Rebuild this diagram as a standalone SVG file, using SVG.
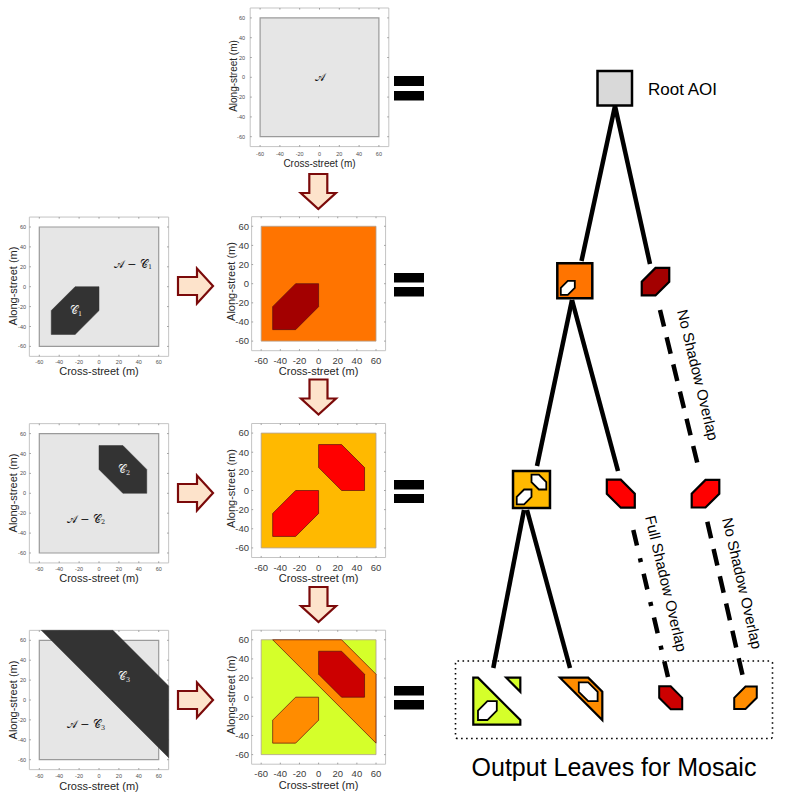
<svg xmlns="http://www.w3.org/2000/svg" xmlns:xlink="http://www.w3.org/1999/xlink" width="797" height="797" viewBox="0 0 797 797">
<style>
text{font-family:"Liberation Sans",Arial,sans-serif}
.tk{font-size:5.5px;fill:#4d4d4d}
.tkm{font-size:9.5px;fill:#404040}
.axl{font-size:11px;fill:#262626}
.axt{font-size:10px;fill:#262626}
.cal{font-family:"DejaVu Serif","Liberation Serif",serif;font-size:11px;fill:#111}
.wt{fill:#f2f2f2}
.ns{vector-effect:non-scaling-stroke}
.gray{fill:#E6E6E6;stroke:#9a9a9a;stroke-width:1.2}
.dk{fill:#333;stroke:#333;stroke-width:0.5}
.bx{fill:#fff;stroke:#c4c4c4;stroke-width:1}
.tks{fill:none;stroke:#8a8a8a;stroke-width:0.8}
.oct{stroke:#5a1010;stroke-width:0.7}
.edge{stroke:#000;stroke-width:4.5;fill:none}
.nstk{stroke:#000;stroke-width:2.5}
.wo{fill:#fff;stroke:#000;stroke-width:1.8}
.arr{fill:#FDE3CB;stroke:#7B0A0A;stroke-width:2.2}
.lbl{font-size:15px;fill:#000}
</style>
<defs>
<g id="ax">
<rect class="bx ns" x="-70" y="-70" width="140" height="140"/>
<path class="tks ns" d="M-60,-70v1.6M-40,-70v1.6M-20,-70v1.6M0,-70v1.6M20,-70v1.6M40,-70v1.6M60,-70v1.6M-60,70v-1.6M-40,70v-1.6M-20,70v-1.6M0,70v-1.6M20,70v-1.6M40,70v-1.6M60,70v-1.6M-70,-60h1.6M-70,-40h1.6M-70,-20h1.6M-70,0h1.6M-70,20h1.6M-70,40h1.6M-70,60h1.6M70,-60h-1.6M70,-40h-1.6M70,-20h-1.6M70,0h-1.6M70,20h-1.6M70,40h-1.6M70,60h-1.6"/>
</g>
<polygon id="c1" class="ns" points="-24,0 0,0 0,-24 -24,-48 -48,-48 -48,-24"/>
<polygon id="c2" class="ns" points="0,48 24,48 48,24 48,0 24,0 0,24"/>
<polygon id="o1" class="ns" points="0,-24 24,-24 24,0 0,24 -24,24 -24,0"/>
<polygon id="o2" class="ns" points="-24,-24 0,-24 24,0 24,24 0,24 -24,0"/>
<path id="arr" d="M-9,0H9V19H17.5L0,35L-17.5,19H-9Z"/>
</defs>

<!-- Top plot -->
<g id="plot-A">
<g transform="translate(319.5,77.3) scale(0.99,-0.99)">
<use xlink:href="#ax"/>
<rect class="gray ns" x="-60" y="-60" width="120" height="120"/>
</g>
<g class="tk" text-anchor="end">
<text x="245" y="19.9">60</text><text x="245" y="39.7">40</text><text x="245" y="59.5">20</text><text x="245" y="79.3">0</text><text x="245" y="99.1">-20</text><text x="245" y="118.9">-40</text><text x="245" y="138.7">-60</text>
</g>
<g class="tk" text-anchor="middle">
<text x="260.1" y="155.5">-60</text><text x="279.9" y="155.5">-40</text><text x="299.7" y="155.5">-20</text><text x="319.5" y="155.5">0</text><text x="339.3" y="155.5">20</text><text x="359.1" y="155.5">40</text><text x="378.9" y="155.5">60</text>
</g>
<text class="axt" x="319.5" y="166.5" text-anchor="middle">Cross-street (m)</text>
<text class="axt" transform="translate(236.5,76) rotate(-90)" text-anchor="middle">Along-street (m)</text>
<text class="cal" x="319.5" y="80.5" text-anchor="middle">𝒜</text>
</g>

<!-- Left plots -->
<g id="plot-C1">
<g transform="translate(99,286.7) scale(0.995,-0.995)">
<use xlink:href="#ax"/>
<rect class="gray ns" x="-60" y="-60" width="120" height="120"/>
<use xlink:href="#c1" class="dk"/>
</g>
<g class="tk" text-anchor="end">
<text x="26" y="229">60</text><text x="26" y="248.9">40</text><text x="26" y="268.8">20</text><text x="26" y="288.7">0</text><text x="26" y="308.6">-20</text><text x="26" y="328.5">-40</text><text x="26" y="348.4">-60</text>
</g>
<g class="tk" text-anchor="middle">
<text x="39.3" y="364">-60</text><text x="59.2" y="364">-40</text><text x="79.1" y="364">-20</text><text x="99" y="364">0</text><text x="118.9" y="364">20</text><text x="138.8" y="364">40</text><text x="158.7" y="364">60</text>
</g>
<text class="axl" x="99" y="374.8" text-anchor="middle">Cross-street (m)</text>
<text class="axl" transform="translate(17,286) rotate(-90)" text-anchor="middle">Along-street (m)</text>
<text class="cal" x="133" y="267.5" text-anchor="middle">𝒜 − 𝒞<tspan font-size="6.5" dy="1.5">1</tspan></text>
<text class="cal wt" x="76" y="314" text-anchor="middle">𝒞<tspan font-size="6.5" dy="1.5">1</tspan></text>
</g>

<g id="plot-C2">
<g transform="translate(99,493.3) scale(0.995,-0.995)">
<use xlink:href="#ax"/>
<rect class="gray ns" x="-60" y="-60" width="120" height="120"/>
<use xlink:href="#c2" class="dk"/>
</g>
<g class="tk" text-anchor="end">
<text x="26" y="435.6">60</text><text x="26" y="455.5">40</text><text x="26" y="475.4">20</text><text x="26" y="495.3">0</text><text x="26" y="515.2">-20</text><text x="26" y="535.1">-40</text><text x="26" y="555">-60</text>
</g>
<g class="tk" text-anchor="middle">
<text x="39.3" y="570.5">-60</text><text x="59.2" y="570.5">-40</text><text x="79.1" y="570.5">-20</text><text x="99" y="570.5">0</text><text x="118.9" y="570.5">20</text><text x="138.8" y="570.5">40</text><text x="158.7" y="570.5">60</text>
</g>
<text class="axl" x="99" y="582" text-anchor="middle">Cross-street (m)</text>
<text class="axl" transform="translate(17,493) rotate(-90)" text-anchor="middle">Along-street (m)</text>
<text class="cal wt" x="124" y="473" text-anchor="middle">𝒞<tspan font-size="6.5" dy="1.5">2</tspan></text>
<text class="cal" x="86" y="522.5" text-anchor="middle">𝒜 − 𝒞<tspan font-size="6.5" dy="1.5">2</tspan></text>
</g>

<g id="plot-C3">
<g transform="translate(99,700) scale(0.995,-0.995)">
<use xlink:href="#ax"/>
<rect class="gray ns" x="-60" y="-60" width="120" height="120"/>
<polygon class="dk ns" points="-58,70 14,70 70,14 70,-58"/>
</g>
<g class="tk" text-anchor="end">
<text x="26" y="642.3">60</text><text x="26" y="662.2">40</text><text x="26" y="682.1">20</text><text x="26" y="702">0</text><text x="26" y="721.9">-20</text><text x="26" y="741.8">-40</text><text x="26" y="761.7">-60</text>
</g>
<g class="tk" text-anchor="middle">
<text x="39.3" y="777.5">-60</text><text x="59.2" y="777.5">-40</text><text x="79.1" y="777.5">-20</text><text x="99" y="777.5">0</text><text x="118.9" y="777.5">20</text><text x="138.8" y="777.5">40</text><text x="158.7" y="777.5">60</text>
</g>
<text class="axl" x="99" y="789.5" text-anchor="middle">Cross-street (m)</text>
<text class="axl" transform="translate(17,700) rotate(-90)" text-anchor="middle">Along-street (m)</text>
<text class="cal wt" x="124" y="680" text-anchor="middle">𝒞<tspan font-size="6.5" dy="1.5">3</tspan></text>
<text class="cal" x="86" y="728" text-anchor="middle">𝒜 − 𝒞<tspan font-size="6.5" dy="1.5">3</tspan></text>
</g>

<!-- Middle plots -->
<g id="plot-M2">
<g transform="translate(318.6,283.7) scale(0.957,-0.957)">
<use xlink:href="#ax"/>
<rect class="ns" x="-60" y="-60" width="120" height="120" fill="#FF7400" stroke="#b0a090" stroke-width="0.8"/>
<use xlink:href="#c1" class="oct" fill="#A30000"/>
</g>
<g class="tkm" text-anchor="end">
<text x="249" y="229.6">60</text><text x="249" y="248.7">40</text><text x="249" y="267.9">20</text><text x="249" y="287">0</text><text x="249" y="306.1">-20</text><text x="249" y="325.3">-40</text><text x="249" y="344.4">-60</text>
</g>
<g class="tkm" text-anchor="middle">
<text x="261.2" y="363.7">-60</text><text x="280.3" y="363.7">-40</text><text x="299.5" y="363.7">-20</text><text x="318.6" y="363.7">0</text><text x="337.7" y="363.7">20</text><text x="356.9" y="363.7">40</text><text x="376" y="363.7">60</text>
</g>
<text class="axl" x="318.6" y="375" text-anchor="middle" font-size="11.5">Cross-street (m)</text>
<text class="axl" transform="translate(235,281.5) rotate(-90)" text-anchor="middle" font-size="11.5">Along-street (m)</text>
</g>

<g id="plot-M3">
<g transform="translate(318.6,490.5) scale(0.957,-0.957)">
<use xlink:href="#ax"/>
<rect class="ns" x="-60" y="-60" width="120" height="120" fill="#FFB900" stroke="#b0a090" stroke-width="0.8"/>
<use xlink:href="#c1" class="oct" fill="#FF0000"/>
<use xlink:href="#c2" class="oct" fill="#FF0000"/>
</g>
<g class="tkm" text-anchor="end">
<text x="249" y="436.4">60</text><text x="249" y="455.5">40</text><text x="249" y="474.7">20</text><text x="249" y="493.8">0</text><text x="249" y="512.9">-20</text><text x="249" y="532.1">-40</text><text x="249" y="551.2">-60</text>
</g>
<g class="tkm" text-anchor="middle">
<text x="261.2" y="570.5">-60</text><text x="280.3" y="570.5">-40</text><text x="299.5" y="570.5">-20</text><text x="318.6" y="570.5">0</text><text x="337.7" y="570.5">20</text><text x="356.9" y="570.5">40</text><text x="376" y="570.5">60</text>
</g>
<text class="axl" x="318.6" y="582" text-anchor="middle" font-size="11.5">Cross-street (m)</text>
<text class="axl" transform="translate(235,488.5) rotate(-90)" text-anchor="middle" font-size="11.5">Along-street (m)</text>
</g>

<g id="plot-M4">
<g transform="translate(318.6,697.2) scale(0.957,-0.957)">
<use xlink:href="#ax"/>
<rect class="ns" x="-60" y="-60" width="120" height="120" fill="#D5FF2A" stroke="#b0a090" stroke-width="0.8"/>
<polygon class="ns oct" points="-48,60 24,60 60,24 60,-48" fill="#FF8C00"/>
<use xlink:href="#c1" class="oct" fill="#FF8C00"/>
<use xlink:href="#c2" class="oct" fill="#CC0000"/>
</g>
<g class="tkm" text-anchor="end">
<text x="249" y="643.1">60</text><text x="249" y="662.2">40</text><text x="249" y="681.4">20</text><text x="249" y="700.5">0</text><text x="249" y="719.6">-20</text><text x="249" y="738.8">-40</text><text x="249" y="757.9">-60</text>
</g>
<g class="tkm" text-anchor="middle">
<text x="261.2" y="777.4">-60</text><text x="280.3" y="777.4">-40</text><text x="299.5" y="777.4">-20</text><text x="318.6" y="777.4">0</text><text x="337.7" y="777.4">20</text><text x="356.9" y="777.4">40</text><text x="376" y="777.4">60</text>
</g>
<text class="axl" x="318.6" y="789" text-anchor="middle" font-size="11.5">Cross-street (m)</text>
<text class="axl" transform="translate(235,695) rotate(-90)" text-anchor="middle" font-size="11.5">Along-street (m)</text>
</g>

<!-- Arrows -->
<g id="arrows">
<use xlink:href="#arr" class="arr" transform="translate(318.3,174)"/>
<use xlink:href="#arr" class="arr" transform="translate(318.5,379.5)"/>
<use xlink:href="#arr" class="arr" transform="translate(318.5,587)"/>
<use xlink:href="#arr" class="arr" transform="translate(178,286) rotate(-90)"/>
<use xlink:href="#arr" class="arr" transform="translate(178,493) rotate(-90)"/>
<use xlink:href="#arr" class="arr" transform="translate(178,700) rotate(-90)"/>
</g>

<!-- Equals signs -->
<g id="equals" fill="#000">
<rect x="394" y="76" width="30" height="10"/><rect x="394" y="91" width="30" height="9.5"/>
<rect x="394" y="273" width="30" height="9.5"/><rect x="394" y="287" width="30" height="9.5"/>
<rect x="394" y="480" width="30" height="9.5"/><rect x="394" y="494" width="30" height="9"/>
<rect x="394" y="686" width="30" height="9.5"/><rect x="394" y="700" width="30" height="9.5"/>
</g>

<!-- Connectors -->
<g id="connectors">
<line class="edge" x1="615" y1="106" x2="581.5" y2="261"/>
<line class="edge" x1="615" y1="106" x2="650" y2="264"/>
<line class="edge" x1="572" y1="300" x2="537" y2="466"/>
<line class="edge" x1="572" y1="300" x2="618" y2="471"/>
<line class="edge" x1="660" y1="310" x2="698.3" y2="467" stroke-dasharray="17 11"/>
<line class="edge" x1="524" y1="510" x2="493.3" y2="668"/>
<line class="edge" x1="527" y1="510" x2="570" y2="668"/>
<line class="edge" x1="633.3" y1="530" x2="668.3" y2="678.3" stroke-dasharray="16 13 4 12"/>
<line class="edge" x1="707.3" y1="521.7" x2="743.3" y2="678.3" stroke-dasharray="17 11"/>
</g>

<!-- Tree nodes -->
<g id="node-root">
<rect class="nstk" x="597.5" y="71" width="34.5" height="34.5" fill="#D9D9D9"/>
<text x="648" y="95" font-size="17px">Root AOI</text>
</g>
<g id="node-orange" transform="translate(574.8,280.8) scale(0.2917,-0.2917)">
<rect class="ns nstk" x="-60" y="-60" width="120" height="120" fill="#FF7400"/>
<use xlink:href="#c1" class="wo"/>
</g>
<g id="node-darkred">
<use xlink:href="#o1" transform="translate(655.5,281.7) scale(0.573)" fill="#A30000" stroke="#000" stroke-width="2.2"/>
</g>
<g id="node-amber" transform="translate(531.5,489.5) scale(0.308,-0.308)">
<rect class="ns nstk" x="-60" y="-60" width="120" height="120" fill="#FFB900"/>
<use xlink:href="#c1" class="wo"/>
<use xlink:href="#c2" class="wo"/>
</g>
<g id="node-red-left">
<use xlink:href="#o2" transform="translate(620.8,493.7) scale(0.583)" fill="#FF0000" stroke="#000" stroke-width="2.2"/>
</g>
<g id="node-red-right">
<use xlink:href="#o1" transform="translate(705.5,493.7) scale(0.575)" fill="#FF0000" stroke="#000" stroke-width="2.2"/>
</g>

<!-- Leaves -->
<g id="leaf-green" transform="translate(496.8,701.2) scale(0.392,-0.392)">
<polygon class="ns" points="-60,60 -48,60 60,-48 60,-60 -60,-60" fill="#D5FF2A" stroke="#000" stroke-width="2.2"/>
<polygon class="ns" points="24,60 60,60 60,24" fill="#D5FF2A" stroke="#000" stroke-width="2.2"/>
<use xlink:href="#c1" class="wo"/>
</g>
<g id="leaf-orange-band" transform="translate(578.8,701.2) scale(0.392,-0.392)">
<polygon class="ns" points="-48,60 24,60 60,24 60,-48" fill="#FF8C00" stroke="#000" stroke-width="2.2"/>
<use xlink:href="#c2" class="wo"/>
</g>
<g id="leaf-darkred">
<use xlink:href="#o2" transform="translate(670.7,697.8) scale(0.48)" fill="#CC0000" stroke="#000" stroke-width="2"/>
</g>
<g id="leaf-orange">
<use xlink:href="#o1" transform="translate(745.5,697.8) scale(0.47)" fill="#FF8C00" stroke="#000" stroke-width="2"/>
</g>

<!-- Labels -->
<text class="lbl" transform="translate(677,311) rotate(76.4)">No Shadow Overlap</text>
<text class="lbl" transform="translate(645,517) rotate(76.7)">Full Shadow Overlap</text>
<text class="lbl" transform="translate(722,519) rotate(77)">No Shadow Overlap</text>

<g id="mosaic-box">
<rect x="455.5" y="661" width="317" height="77.5" rx="2" fill="none" stroke="#000" stroke-width="1.6" stroke-dasharray="1.6 3.4"/>
</g>
<text x="614" y="776" font-size="25px" text-anchor="middle">Output Leaves for Mosaic</text>
</svg>
